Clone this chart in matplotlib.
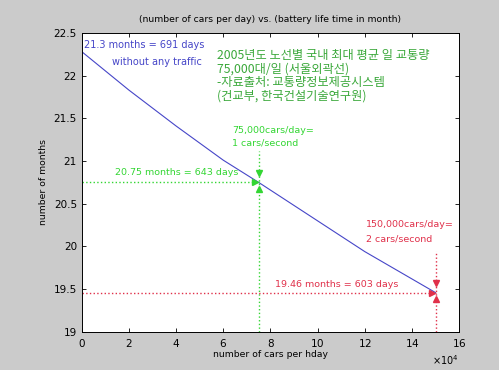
import matplotlib
matplotlib.use("Agg")
import matplotlib.pyplot as plt

# data
cars_per_day = [0, 20000, 40000, 60000, 75000, 100000, 120000, 150000]
months = [22.28, 21.83, 21.41, 21.01, 20.75, 20.30, 19.94, 19.46]
mark_x = [75000, 150000]
mark_y = [20.75, 19.46]

title = "(number of cars per day) vs. (battery life time in month)"
xlabel = "number of cars per hday"
ylabel = "number of months"
korean = ["2005년도 노선별 국내 최대 평균 일 교통량",
          "75,000대/일 (서울외곽선)",
          "-자료출처: 교통량정보제공시스템",
          "(건교부, 한국건설기술연구원)"]

plt.rcParams['font.family'] = ['DejaVu Sans', 'Noto Sans CJK KR']

blue = '#4646c8'
green = '#33d633'
gtext = '#3aa83a'
red = '#e0304a'

fig = plt.figure(figsize=(4.99, 3.70), dpi=100, facecolor='#cbcbcb')
ax = fig.add_axes([0.164, 0.103, 0.756, 0.808])
ax.set_facecolor('white')

ax.plot(cars_per_day, months, color=blue, lw=0.8)

# green guide lines and markers
gx, gy = mark_x[0], mark_y[0]
ax.plot([0, gx], [gy, gy], color=green, ls=':', lw=1.0)
ax.plot([gx, gx], [19, 21.12], color=green, ls=':', lw=1.0)
ax.plot([gx], [gy + 0.11], marker='v', color=green, ms=3.8, ls='none')
ax.plot([gx], [gy - 0.08], marker='^', color=green, ms=3.8, ls='none')
ax.plot([gx - 1600], [gy], marker='>', color=green, ms=3.8, ls='none')

# red guide lines and markers
rx, ry = mark_x[1], mark_y[1]
ax.plot([0, rx], [ry, ry], color=red, ls=':', lw=1.0)
ax.plot([rx, rx], [19, 19.95], color=red, ls=':', lw=1.0)
ax.plot([rx], [ry + 0.11], marker='v', color=red, ms=3.8, ls='none')
ax.plot([rx], [ry - 0.08], marker='^', color=red, ms=3.8, ls='none')
ax.plot([rx - 1600], [ry], marker='>', color=red, ms=3.8, ls='none')

ax.set_xlim(0, 160000)
ax.set_ylim(19, 22.5)
ax.set_xticks(range(0, 160001, 20000))
ax.set_yticks([19, 19.5, 20, 20.5, 21, 21.5, 22, 22.5])
ax.set_yticklabels(['19', '19.5', '20', '20.5', '21', '21.5', '22', '22.5'])
ax.ticklabel_format(style='sci', axis='x', scilimits=(4, 4), useMathText=True)
ax.xaxis.get_offset_text().set_fontsize(7)
ax.tick_params(direction='in', top=True, right=True, labelsize=7.5, length=3, width=0.6)
for s in ax.spines.values():
    s.set_linewidth(0.7)

ax.set_title(title, fontsize=6.7, pad=8)
ax.set_xlabel(xlabel, fontsize=6.7, labelpad=1)
ax.set_ylabel(ylabel, fontsize=6.7, labelpad=4)

# annotations
ax.text(1000, 22.42, "21.3 months = 691 days", color=blue, fontsize=7, va='top', ha='left')
ax.text(31800, 22.22, "without any traffic", color=blue, fontsize=7, va='top', ha='center')

ax.text(57500, 22.31, "\n".join(korean), color=gtext, fontsize=8.8, va='top', ha='left',
        family=['Noto Sans CJK KR', 'DejaVu Sans'], linespacing=1.03, clip_on=True)

ax.text(63700, 21.36, "75,000cars/day=", color=green, fontsize=6.8, va='center', ha='left')
ax.text(63700, 21.21, "1 cars/second", color=green, fontsize=6.8, va='center', ha='left')
ax.text(66500, 20.81, "20.75 months = 643 days", color=green, fontsize=6.8, va='bottom', ha='right')

ax.text(120500, 20.26, "150,000cars/day=", color=red, fontsize=6.8, va='center', ha='left')
ax.text(120500, 20.09, "2 cars/second", color=red, fontsize=6.8, va='center', ha='left')
ax.text(82000, 19.5, "19.46 months = 603 days", color=red, fontsize=6.8, va='bottom', ha='left')

fig.savefig("out.png", dpi=100, facecolor=fig.get_facecolor())
